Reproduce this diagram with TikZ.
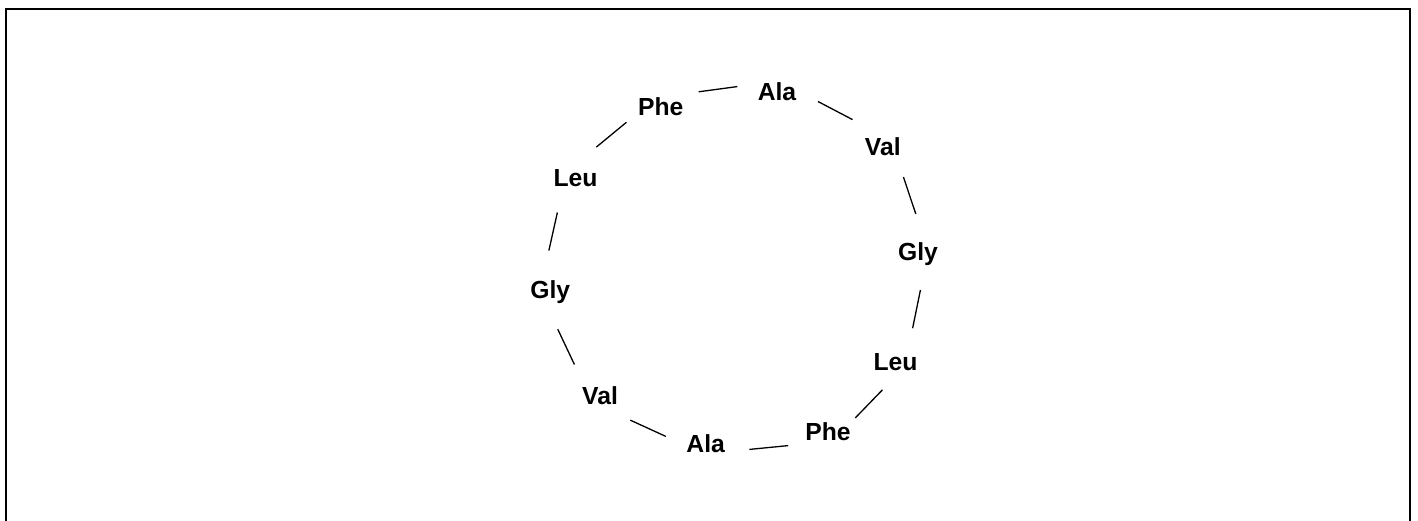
\documentclass[tikz,border=0pt]{standalone}
\usepackage{fontspec}
\setmainfont{Liberation Sans}
\usetikzlibrary{positioning, calc}
\tikzstyle{residue}=[inner sep=0,
  font=\fontsize{24.7}{30}\selectfont\bfseries, text height=17.7pt, text depth=0pt]
\tikzstyle{bond}=[line width=1.3]
\tikzstyle{frame}=[line width=2]

\begin{document}
\begin{tikzpicture}[x=1pt, y=-1pt]
      \useasboundingbox (0,0) rectangle (1418,521);
      \draw[frame] (6.3,521) -- (6.3,9.3) -- (1410.3,9.3) -- (1410.3,521);

      % ring of residues, clockwise from the top
      \coordinate (ring) at (734,270);
      \node[residue] (ala1) at (777,91.3) {Ala};
      \node[residue] (val1) at (882.8,146.7) {Val};
      \node[residue] (gly1) at (918,252) {Gly};
      \node[residue] (leu1) at (895.5,362) {Leu};
      \node[residue] (phe1) at (828,431.7) {Phe};
      \node[residue] (ala2) at (705.7,443.7) {Ala};
      \node[residue] (val2) at (600,395.3) {Val};
      \node[residue] (gly2) at (550.3,290) {Gly};
      \node[residue] (leu2) at (575.5,177.2) {Leu};
      \node[residue] (phe2) at (660.7,107) {Phe};

      % short bonds, pushed out onto the ring
      \foreach \a/\b in {ala1/val1, val1/gly1, gly1/leu1, leu1/phe1, phe1/ala2,
        ala2/val2, val2/gly2, gly2/leu2, leu2/phe2, phe2/ala1}{
        \coordinate (mid) at ($(\a)!0.5!(\b)$);
        \coordinate (out) at ($(mid)!-10pt!(ring)$);
        \draw[bond] ($(mid)!19.5pt!(\a)+(out)-(mid)$) --
          ($(mid)!19.5pt!(\b)+(out)-(mid)$);
      }
\end{tikzpicture}
\end{document}
